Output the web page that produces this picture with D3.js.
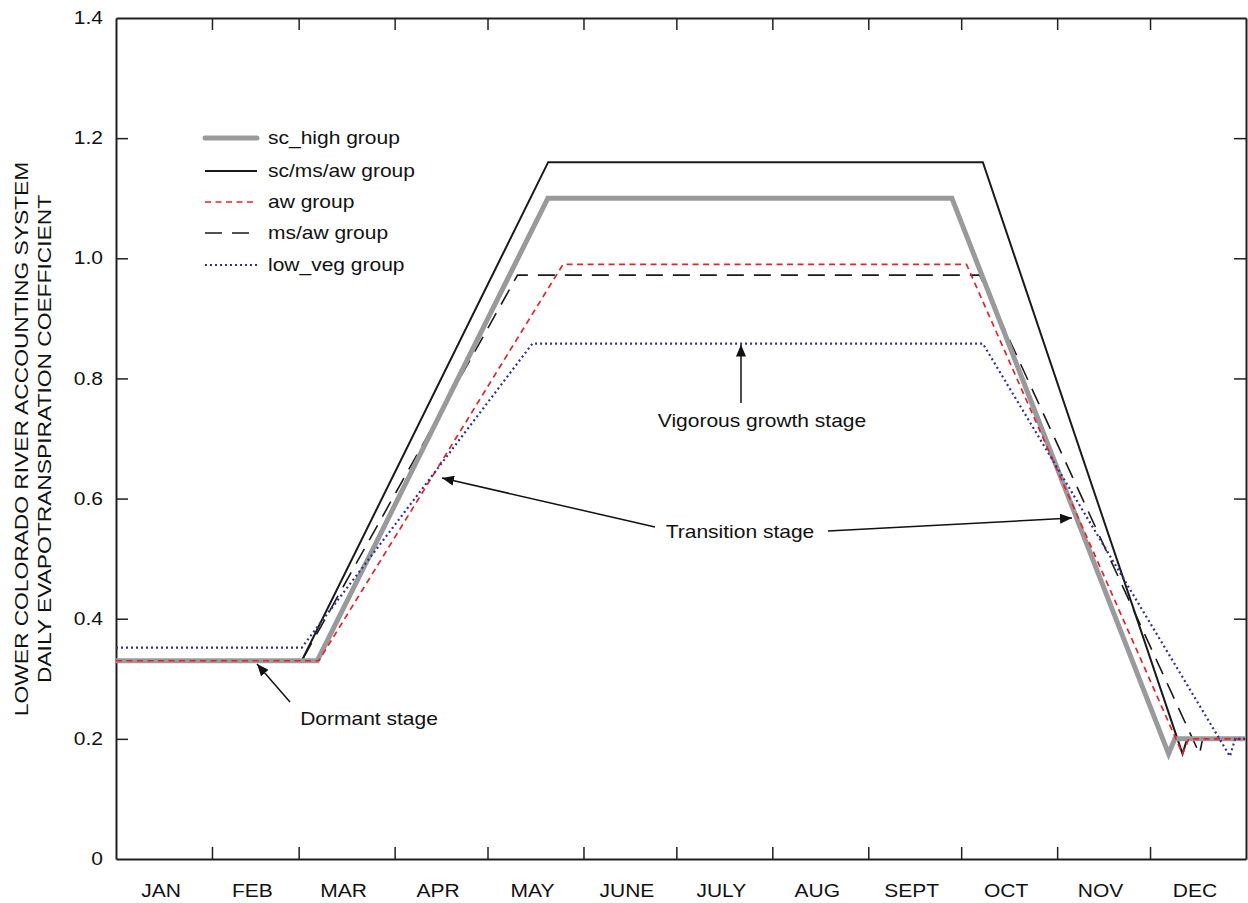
<!DOCTYPE html>
<html>
<head>
<meta charset="utf-8">
<script src="https://cdn.jsdelivr.net/npm/d3@7"></script>
<style>
  html, body { margin: 0; padding: 0; background: #fff; }
  svg { display: block; font-family: "Liberation Sans", Arial, sans-serif; }
</style>
</head>
<body>
<svg id="chart" width="1248" height="903"></svg>
<script>
// ---- data ----
const monthLabels = ["JAN","FEB","MAR","APR","MAY","JUNE","JULY","AUG","SEPT","OCT","NOV","DEC"];
const monthStarts = [0,31,59,90,120,151,181,212,243,273,304,334,365];
const yTicks = [0,0.2,0.4,0.6,0.8,1.0,1.2,1.4];

// [day of year, coefficient]
const scHigh  = [[0,0.33],[65,0.33],[139.5,1.10],[270,1.10],[340,0.175],[342,0.2],[365,0.2]];
const scMsAw  = [[0,0.33],[60,0.33],[139.6,1.16],[280,1.16],[344.5,0.175],[346,0.2],[365,0.2]];
const awGrp   = [[0,0.33],[65.5,0.33],[144.4,0.99],[274.7,0.99],[344.5,0.175],[346.5,0.2],[365,0.2]];
const msAw    = [[0,0.33],[60,0.33],[129.7,0.972],[279,0.972],[350,0.175],[351,0.2],[365,0.2]];
const lowVeg  = [[0,0.352],[60,0.352],[134.5,0.858],[280,0.858],[359.8,0.171],[361.5,0.2],[365,0.2]];

const seriesNames = ["sc_high group","sc/ms/aw group","aw group","ms/aw group","low_veg group"];

// ---- layout ----
const L = 116, R = 1246, T = 18, B = 859;
const SX = 1.2; // horizontal text stretch
const svg = d3.select("#chart");
const x = d3.scaleLinear().domain([0,365]).range([L,R]);
const y = d3.scaleLinear().domain([0,1.4]).range([B,T]);

const styles = [
  {data: scHigh, stroke:"#9a9a9c", width:5,   dash:null},
  {data: scMsAw, stroke:"#1a1a1a", width:2,   dash:null},
  {data: awGrp,  stroke:"#e3242b", width:1.7, dash:"6,4.5"},
  {data: msAw,   stroke:"#1a1a1a", width:1.6, dash:"17,10"},
  {data: lowVeg, stroke:"#2e3192", width:2.2, dash:"2,3"}
];

function stext(g, txt, xx, yy, opts = {}) {
  return g.append("text")
    .attr("transform", `translate(${xx},${yy}) scale(${SX},1)`)
    .attr("dy", "0.35em")
    .attr("text-anchor", opts.anchor || "start")
    .attr("font-size", opts.size || 17.5)
    .attr("fill", "#111")
    .text(txt);
}

// markers
const defs = svg.append("defs");
defs.append("marker").attr("id","arr").attr("viewBox","0 0 12 10")
  .attr("refX",12).attr("refY",5).attr("markerWidth",12).attr("markerHeight",10)
  .attr("markerUnits","userSpaceOnUse").attr("orient","auto")
  .append("path").attr("d","M0,0 L12,5 L0,10 Z").attr("fill","#111");

// axes box
const tickLen = 12;
const axB = svg.append("g").attr("transform",`translate(0,${B})`)
  .call(d3.axisBottom(x).tickValues(monthStarts.slice(1,-1)).tickSizeInner(-tickLen).tickSizeOuter(0).tickFormat(""));
const axT = svg.append("g").attr("transform",`translate(0,${T})`)
  .call(d3.axisTop(x).tickValues(monthStarts.slice(1,-1)).tickSizeInner(-tickLen).tickSizeOuter(0).tickFormat(""));
const axL = svg.append("g").attr("transform",`translate(${L},0)`)
  .call(d3.axisLeft(y).tickValues(yTicks.slice(1,-1)).tickSizeInner(-tickLen).tickSizeOuter(0).tickFormat(""));
const axR = svg.append("g").attr("transform",`translate(${R},0)`)
  .call(d3.axisRight(y).tickValues(yTicks.slice(1,-1)).tickSizeInner(-tickLen).tickSizeOuter(0).tickFormat(""));
[axB,axT,axL,axR].forEach(a => {
  a.select(".domain").attr("stroke","#231f20").attr("stroke-width",2);
  a.selectAll(".tick line").attr("stroke","#231f20").attr("stroke-width",1.5);
});

// y tick labels
const gy = svg.append("g");
yTicks.forEach(d => stext(gy, d===0 ? "0" : d.toFixed(1), 103, y(d), {anchor:"end"}));

// x month labels
const gx = svg.append("g");
monthLabels.forEach((d,i) => stext(gx, d, x((monthStarts[i]+monthStarts[i+1])/2) - 3, 891, {anchor:"middle"}));

// y axis title
const yt = svg.append("g").attr("transform","translate(0,439) rotate(-90)");
stext(yt, "LOWER COLORADO RIVER ACCOUNTING SYSTEM", 0, 21, {anchor:"middle", size:19});
stext(yt, "DAILY EVAPOTRANSPIRATION COEFFICIENT", 0, 44, {anchor:"middle", size:19});

// lines
const line = d3.line().x(d=>x(d[0])).y(d=>y(d[1]));
const drawOrder = [3,1,0,2,4];
drawOrder.forEach(i => {
  const s = styles[i];
  svg.append("path").datum(s.data).attr("d",line)
    .attr("fill","none").attr("stroke",s.stroke).attr("stroke-width",s.width)
    .attr("stroke-dasharray",s.dash).attr("stroke-linejoin","miter");
});

// legend
const legRows = [138,171,202,233,265];
const leg = svg.append("g");
styles.forEach((s,i) => {
  leg.append("line").attr("x1",205).attr("x2",257).attr("y1",legRows[i]).attr("y2",legRows[i])
    .attr("stroke",s.stroke).attr("stroke-width",s.width).attr("stroke-dasharray",s.dash)
    .attr("stroke-linecap", i===0 ? "round" : "butt");
  stext(leg, seriesNames[i], 268, legRows[i]);
});

// annotations
function arrow(x1,y1,x2,y2){
  svg.append("line").attr("x1",x1).attr("y1",y1).attr("x2",x2).attr("y2",y2)
    .attr("stroke","#111").attr("stroke-width",1.5).attr("marker-end","url(#arr)");
}
const ga = svg.append("g");
stext(ga, "Vigorous growth stage", 762, 421, {anchor:"middle"});
arrow(741,403,741,y(0.858)+1);
stext(ga, "Transition stage", 740, 532, {anchor:"middle"});
arrow(655,527,442,478);
arrow(828,531,1072,518);
stext(ga, "Dormant stage", 369, 719, {anchor:"middle"});
arrow(290,702,257,664);
</script>
</body>
</html>
